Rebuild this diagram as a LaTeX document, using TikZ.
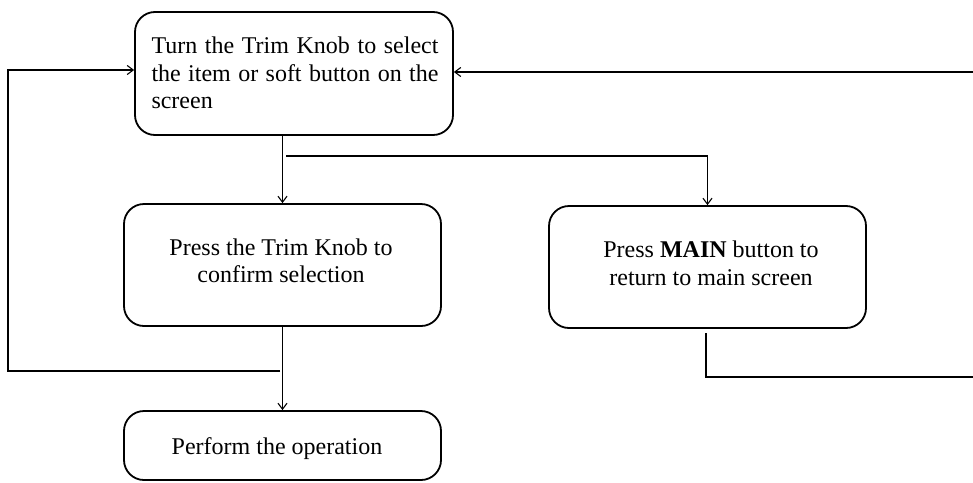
\documentclass[tikz,border=0pt]{standalone}
\usepackage{fontspec}
\setmainfont{Liberation Serif}
\usetikzlibrary{arrows.meta}
\tikzset{
  stepbox/.style={draw, line width=1.8pt, rounded corners=20pt, minimum width=317pt, inner sep=0pt},
  steptext/.style={inner sep=0pt, font=\fontsize{24}{27.5}\selectfont, align=center},
  conn/.style={line width=1.2pt},
  arr/.style={conn, -{Straight Barb[length=6pt,width=9pt,line width=1.1pt]}}
}
\begin{document}
\begin{tikzpicture}[x=1pt,y=-1pt]
\useasboundingbox (0,0) rectangle (973,482);
\node[stepbox, minimum width=318pt, minimum height=123pt] (b1) at (294,73.5) {};
\node[steptext, text width=287pt, align=justify] (t1) at (295,73)
  {Turn the Trim Knob to select the item or soft button on the screen};
\node[stepbox, minimum height=122pt] (b2) at (282.5,265) {};
\node[steptext] (t2) at (281,261) {Press the Trim Knob to\\confirm selection};
\node[stepbox, minimum height=122pt] (b3) at (707.5,267) {};
\node[steptext] (t3) at (711,263.5) {Press \textbf{MAIN} button to\\return to main screen};
\node[stepbox, minimum height=69pt] (b4) at (282.5,445.5) {};
\node[steptext] (t4) at (277,449) {Perform the operation};
\coordinate (j1) at (286,156);
\coordinate (l1) at (280,371);
\coordinate (l2) at (8,70);
\coordinate (r1) at (706,333);
\coordinate (r2) at (973,377);
\coordinate (r3) at (973,72);
\draw[arr] (b1.south -| b2.north) -- (b2.north);
\draw[arr] (j1) -| (b3.north);
\draw[arr] (l1) -| (l2) -- (l2 -| b1.west);
\draw[arr] (b2.south) -- (b4.north);
\draw[conn] (r1) |- (r2);
\draw[arr] (r3) -- (r3 -| b1.east);
\end{tikzpicture}
\end{document}
